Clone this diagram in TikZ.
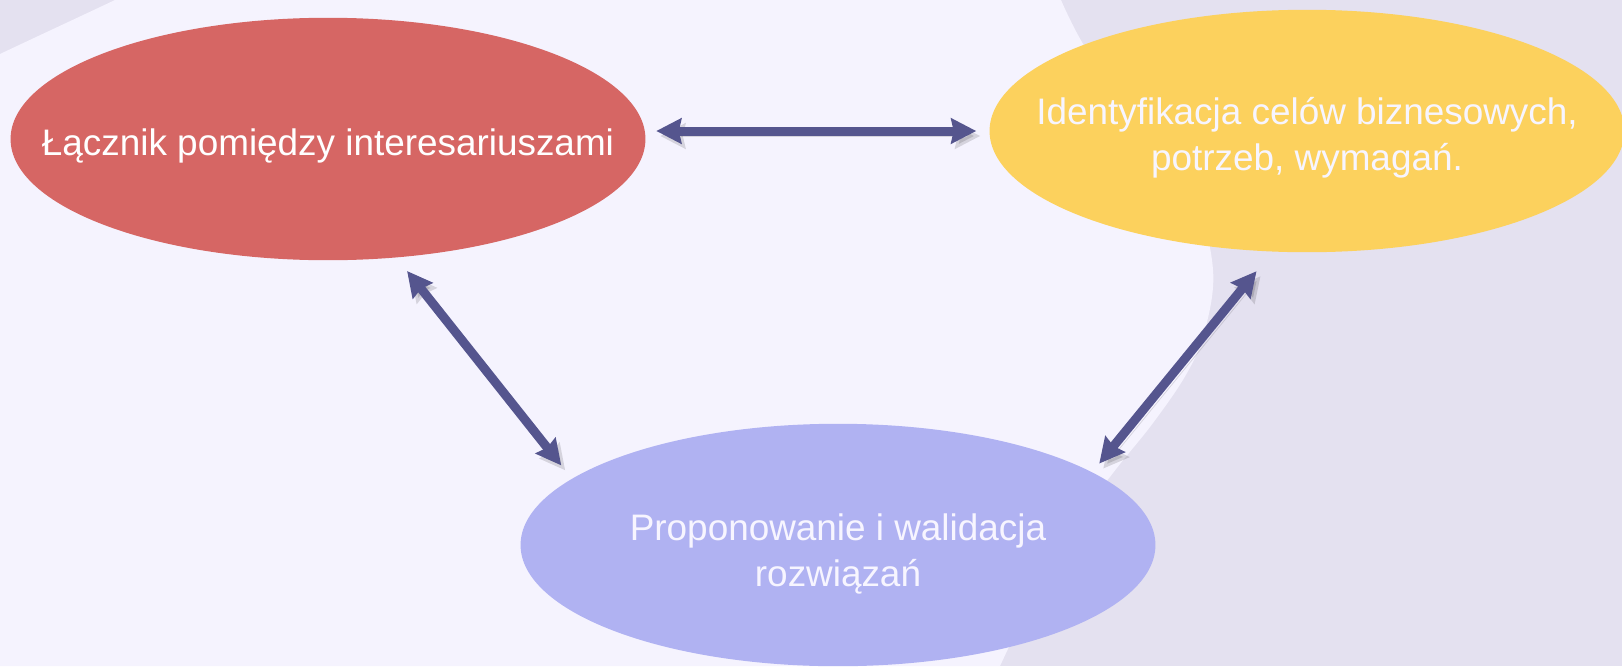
\documentclass[tikz,border=0pt]{standalone}
\usepackage{fontspec}
\setmainfont{Liberation Sans}
\usetikzlibrary{arrows.meta,shapes.geometric}
\definecolor{bglight}{HTML}{F5F3FE}
\definecolor{bgdark}{HTML}{E4E1F0}
\definecolor{liaison}{HTML}{D66664}
\definecolor{goals}{HTML}{FCD15D}
\definecolor{solutions}{HTML}{B0B2F2}
\definecolor{linkcolor}{HTML}{55558E}
\definecolor{captiontext}{HTML}{F7F5FF}
\tikzset{bubble/.style={ellipse,inner sep=0pt,minimum width=12.7cm,minimum height=4.85cm},
 caption/.style={text=captiontext,align=center,yshift=-0.14cm,font=\fontsize{21pt}{26pt}\selectfont},
 link/.style={{Stealth[length=0.5cm,width=0.5cm,inset=0.05cm]}-{Stealth[length=0.5cm,width=0.5cm,inset=0.05cm]},
  line width=0.18cm,draw=linkcolor,
  preaction={draw=black,opacity=0.13,transform canvas={shift={(0.08cm,-0.1cm)}}}}}

\begin{document}
\begin{tikzpicture}[x=0.02cm,y=-0.02cm]
\useasboundingbox (0,0) rectangle (1622,666);
\clip (0,0) rectangle (1622,666);
% background
\fill[bgdark] (0,0) rectangle (1622,666);
\fill[bglight] (0,54) .. controls (38,36) and (77,18) .. (115,0) -- (1061,0)
 -- plot[smooth,tension=0.6] coordinates {(1061,0) (1090,55) (1150,130) (1195,200) (1213,270)
 (1205,330) (1187,373) (1153,423) (1113,473) (1060,545) (1000,666)} -- (0,666) -- cycle;
% the three roles
\node[bubble,fill=liaison,label={[caption,text=white,name=liaison-text]center:{Łącznik pomiędzy interesariuszami}}] (liaison) at (328,139) {};
\node[bubble,fill=goals,label={[caption,name=goals-text]center:{Identyfikacja celów biznesowych,\\potrzeb, wymagań.}}] (goals) at (1307,131) {};
\node[bubble,fill=solutions,label={[caption,yshift=-0.04cm,name=solutions-text]center:{Proponowanie i walidacja\\rozwiązań}}] (solutions) at (838,545) {};
% links
\draw[link,shorten <=0.21cm,shorten >=0.26cm] (liaison.east |- goals.west) -- (goals.west);
\draw[link,shorten <=0.34cm,shorten >=0.34cm] (liaison.-60.3) -- (solutions.166.5);
\draw[link,shorten <=0.5cm,shorten >=0.22cm] (goals.-106) -- (solutions.16.3);
\end{tikzpicture}
\end{document}
